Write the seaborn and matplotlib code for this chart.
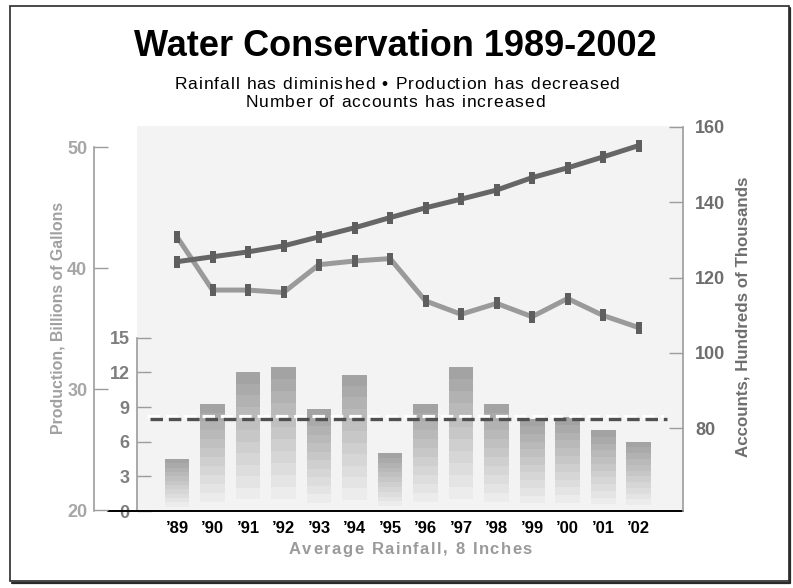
import numpy as np
import matplotlib
matplotlib.use("Agg")
import matplotlib.pyplot as plt
import matplotlib.transforms as mtransforms
from matplotlib.patches import Rectangle
from matplotlib.lines import Line2D
from matplotlib.font_manager import FontProperties, findfont
from matplotlib.ft2font import FT2Font
import seaborn as sns

# ---- data -------------------------------------------------------------
years = ["\u201989", "\u201990", "\u201991", "\u201992", "\u201993", "\u201994", "\u201995",
         "\u201996", "\u201997", "\u201998", "\u201999", "\u201900", "\u201901", "\u201902"]
rainfall = [4.5, 9.3, 12.0, 12.5, 8.8, 11.8, 5.0, 9.3, 12.5, 9.3, 8.0, 8.15, 7.0, 6.0]
production = [42.6, 38.2, 38.2, 38.0, 40.3, 40.6, 40.8, 37.3, 36.2, 37.1, 36.0, 37.5, 36.1, 35.1]
accounts = [124.2, 125.5, 126.8, 128.4, 130.8, 133.2, 135.9, 138.5, 140.8, 143.2,
            146.5, 149.1, 152.0, 155.0]
avg_rainfall = 8

rain_ticks = [0, 3, 6, 9, 12, 15]
prod_ticks = [20, 30, 40, 50]
acct_ticks = [80, 100, 120, 140, 160]

title = "Water Conservation 1989-2002"
subtitle_1 = "Rainfall has diminished \u2022 Production has decreased"
subtitle_2 = "Number of accounts has increased"
xlabel = "Average Rainfall, 8 Inches"
prod_label = "Production, Billions of Gallons"
acct_label = "Accounts, Hundreds of Thousands"

# ---- style ------------------------------------------------------------
sns.set_theme(style="white")
FAMILY = "Liberation Sans"
plt.rcParams["font.family"] = [FAMILY, "DejaVu Sans"]
plt.rcParams["lines.scale_dashes"] = False

W, H, DPI = 793, 588, 100
fig = plt.figure(figsize=(W / DPI, H / DPI), dpi=DPI)
fig.patch.set_facecolor("white")


def tracked_text(s, xc, baseline, size, weight, color, gap):
    """Draw a line of text centred at xc with `gap` extra pixels between letters."""
    font = FT2Font(findfont(FontProperties(family=FAMILY, weight=weight)))
    font.set_size(size, DPI)
    glyphs = [font.load_char(ord(c)) for c in s]
    adv = [g.linearHoriAdvance / 65536 for g in glyphs]
    width = sum(adv) + gap * (len(s) - 1)
    x = xc - width / 2
    for c, g, a in zip(s, glyphs, adv):
        if c != " ":
            fig.text((x + g.horiBearingX / 64) / W, 1 - baseline / H, c, ha="left",
                     va="baseline", fontsize=size, fontweight=weight, color=color)
        x += a + gap


x0, x1, ytop, ybot = 136.7, 683.0, 126.0, 511.0
ax = fig.add_axes([x0 / W, 1 - ybot / H, (x1 - x0) / W, (ybot - ytop) / H])
ax.set_facecolor("#f3f3f3")

BG = 0xf3
spine_grey = "#9c9c9c"

# ---- rainfall bars: stacked bands, darkest at the top -------------------
n_bands = 12
rain = np.array(rainfall)
for k in range(n_bands):
    g = int(round(0xa3 + (BG - 0xa3) * k / (n_bands - 1)))
    col = "#{0:02x}{0:02x}{0:02x}".format(g)
    sns.barplot(x=years, y=rain * (n_bands - k) / n_bands, color=col, saturation=1,
                width=0.7, linewidth=0, ax=ax, order=years)

ax.set_xlim(-1.135, 14.25)
ax.set_ylim(0, 33.33)

# average rainfall: dark dashes with a white highlight just above
dash = (9.0, 4.2)
ax.hlines(avg_rainfall, -0.76, 13.8, colors="#505050", linewidth=2.4,
          linestyles=[(0, dash)], zorder=5)
hl = mtransforms.offset_copy(ax.transData, fig=fig, x=-3, y=3, units="dots")
ax.hlines(avg_rainfall, -0.76, 13.8, colors="white", linewidth=2.3,
          linestyles=[(0, dash)], transform=hl, zorder=4)

for s in ["top", "right", "bottom"]:
    ax.spines[s].set_visible(False)
ax.spines["left"].set_color(spine_grey)
ax.spines["left"].set_linewidth(1.2)
ax.spines["left"].set_bounds(0, 15)
ax.set_yticks(rain_ticks)
ax.set_yticklabels([str(t) for t in rain_ticks])
ax.tick_params(axis="y", direction="in", length=10, width=1, color=spine_grey,
               labelcolor="#7e7e7e", labelsize=13, pad=5)
ax.set_xticks(range(len(years)))
ax.set_xticklabels(years)
ax.tick_params(axis="x", length=0, labelsize=12, labelcolor="black", pad=7)
for t in ax.get_xticklabels() + ax.get_yticklabels():
    t.set_fontweight("bold")
ax.set_xlabel("")
ax.set_ylabel("")

# black base line running under both left axes
ax.add_line(Line2D([-0.0525, 1.0], [0, 0], transform=ax.transAxes, color="black",
                   linewidth=1.4, clip_on=False, zorder=6))

# ---- production (left outer axis) --------------------------------------
rect_marker = [(-0.23, -0.5), (0.23, -0.5), (0.23, 0.5), (-0.23, 0.5), (-0.23, -0.5)]
pos = np.arange(len(years))

axp = ax.twinx()
axp.patch.set_visible(False)
axp.yaxis.tick_left()
axp.spines["left"].set_position(("axes", -0.0776))
for s in ["top", "right", "bottom"]:
    axp.spines[s].set_visible(False)
axp.spines["left"].set_color(spine_grey)
axp.spines["left"].set_linewidth(1.2)
axp.set_ylim(19.94, 51.76)
axp.spines["left"].set_bounds(19.94, 50)
sns.lineplot(x=pos, y=production, ax=axp, color="#9a9a9a", linewidth=3.6,
             marker=rect_marker, markersize=8, markerfacecolor="#5e5e5e",
             markeredgecolor="#5e5e5e", markeredgewidth=0, sort=False)
axp.set_yticks(prod_ticks)
axp.set_yticklabels([str(t) for t in prod_ticks])
axp.tick_params(axis="y", direction="in", length=10, width=1, color=spine_grey,
                labelcolor="#a6a6a6", labelsize=13, pad=5)
for t in axp.get_yticklabels():
    t.set_fontweight("bold")
axp.set_ylabel("")

# ---- accounts (right axis) ---------------------------------------------
axa = ax.twinx()
axa.patch.set_visible(False)
for s in ["top", "left", "bottom"]:
    axa.spines[s].set_visible(False)
axa.spines["right"].set_color(spine_grey)
axa.spines["right"].set_linewidth(1.2)
axa.set_ylim(58.06, 160.2)
axa.spines["right"].set_bounds(58.06, 160)
sns.lineplot(x=pos, y=accounts, ax=axa, color="#666666", linewidth=3.6,
             marker=rect_marker, markersize=8, markerfacecolor="#5e5e5e",
             markeredgecolor="#5e5e5e", markeredgewidth=0, sort=False)
axa.set_yticks(acct_ticks)
axa.set_yticklabels([str(t) for t in acct_ticks])
axa.tick_params(axis="y", direction="in", length=10, width=1, color=spine_grey,
                labelcolor="#6e6e6e", labelsize=13, pad=8.6)
for t in axa.get_yticklabels():
    t.set_fontweight("bold")
axa.set_ylabel("")
axa.set_xlim(-1.135, 14.25)

# ---- text ---------------------------------------------------------------
fig.text(0.499, 1 - 47 / H, title, ha="center", va="center", fontsize=26,
         fontweight="bold", color="black")
tracked_text(subtitle_1, 396, 89, 12.5, "normal", "black", 1.0)
tracked_text(subtitle_2, 394, 107, 12.5, "normal", "black", 1.0)
tracked_text(xlabel, (x0 + x1) / 2, 554, 12, "bold", "#9a9a9a", 1.5)
fig.text(58 / W, 1 - 318 / H, prod_label, rotation=90, ha="center", va="center",
         fontsize=11.4, fontweight="bold", color="#a0a0a0")
fig.text(743 / W, 1 - 317 / H, acct_label, rotation=90, ha="center", va="center",
         fontsize=12.2, fontweight="bold", color="#6e6e6e")

# ---- frame with drop shadow --------------------------------------------
fx0, fy0, fx1, fy1 = 9.5, 6.0, 788.5, 581.0
fig.add_artist(Rectangle((fx0 / W, 1 - fy1 / H), (fx1 - fx0) / W, (fy1 - fy0) / H,
                         transform=fig.transFigure, fill=False, edgecolor="#2a2a2a",
                         linewidth=1.2))
fig.add_artist(Line2D([(fx0 + 2) / W, (fx1 + 1.5) / W], [1 - (fy1 + 1.5) / H] * 2,
                      transform=fig.transFigure, color="#2a2a2a", linewidth=1.6))
fig.add_artist(Line2D([(fx1 + 1.5) / W] * 2, [1 - (fy0 + 2) / H, 1 - (fy1 + 1.5) / H],
                      transform=fig.transFigure, color="#2a2a2a", linewidth=1.6))

fig.savefig("out.png", dpi=DPI, facecolor="white")
